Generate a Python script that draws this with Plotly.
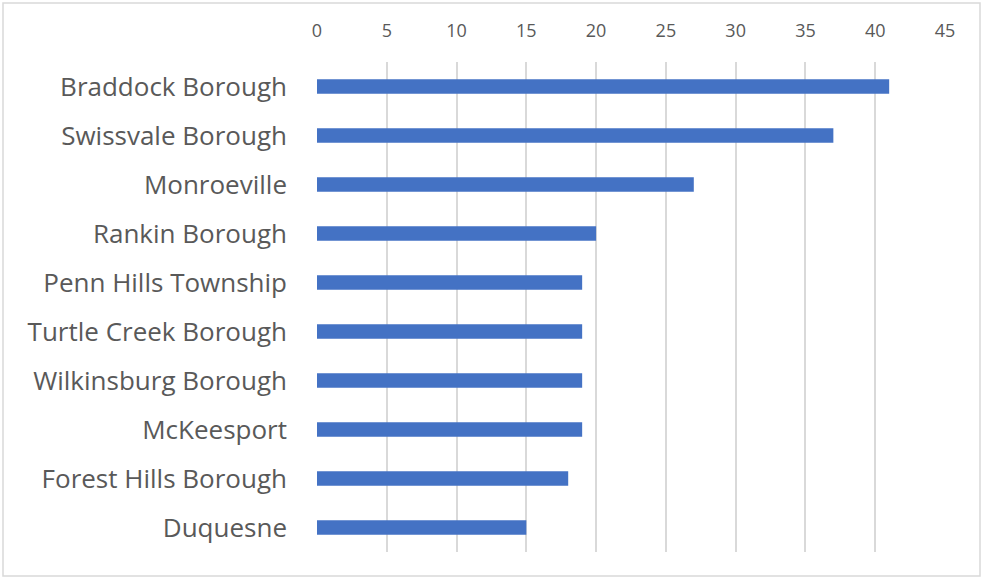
import plotly.graph_objects as go

categories = ["Braddock Borough", "Swissvale Borough", "Monroeville", "Rankin Borough",
              "Penn Hills Township", "Turtle Creek Borough", "Wilkinsburg Borough",
              "McKeesport", "Forest Hills Borough", "Duquesne"]
values = [41, 37, 27, 20, 19, 19, 19, 19, 18, 15]
tick_vals = [0, 5, 10, 15, 20, 25, 30, 35, 40, 45]

fig = go.Figure(go.Bar(
    x=values, y=categories, orientation="h",
    marker=dict(color="#4472C4", line=dict(width=0)),
))

PL, PR, PT, PB = 317, 945, 62, 552
pw, ph = PR - PL, PB - PT

fig.update_layout(
    width=982, height=578,
    margin=dict(l=PL, r=982 - PR, t=PT, b=578 - PB),
    paper_bgcolor="white", plot_bgcolor="white",
    bargap=0.7,
    showlegend=False,
    font=dict(family="Open Sans, Liberation Sans, sans-serif", color="#595959"),
    xaxis=dict(
        side="top", range=[0, 45], tickvals=tick_vals,
        showgrid=True, gridcolor="#D9D9D9", gridwidth=1.5,
        zeroline=False, showline=False, ticks="",
        tickfont=dict(size=18, color="#595959"),
        ticklabelstandoff=20,
    ),
    yaxis=dict(
        autorange="reversed", showgrid=False, zeroline=False, showline=False,
        ticks="", tickfont=dict(size=26, color="#595959"),
        ticklabelstandoff=29,
    ),
    shapes=[dict(type="rect", xref="paper", yref="paper",
                 x0=(3 - PL) / pw, x1=(980 - PL) / pw,
                 y0=(PB - 576) / ph, y1=(PB - 3) / ph,
                 line=dict(color="#D9D9D9", width=1.5))],
)

fig.write_html("out.html", config={"displayModeBar": False},
               post_script="document.body.style.margin='0';document.body.style.overflow='hidden';")
